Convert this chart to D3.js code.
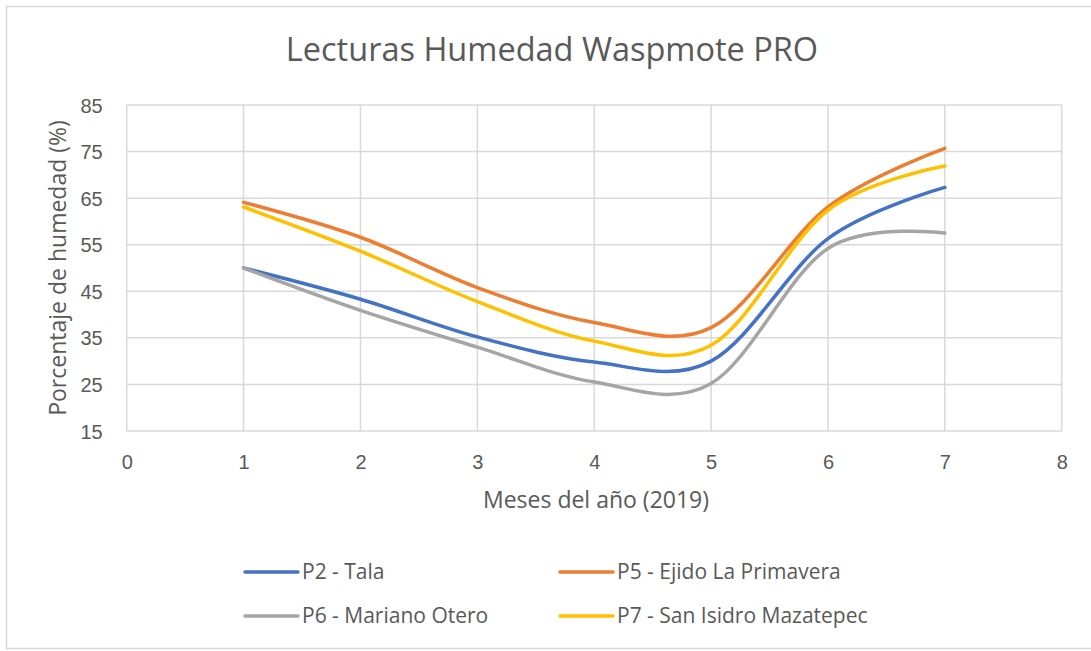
<!DOCTYPE html>
<html>
<head>
<meta charset="utf-8">
<script src="https://cdn.jsdelivr.net/npm/d3@7"></script>
<style>
  body { margin: 0; background: #fff; }
  svg { display: block; font-family: "Open Sans", sans-serif; }
  .grid line { stroke: #d9d9d9; stroke-width: 1.5; }
  .tick text { fill: #595959; font-size: 20px; }
</style>
</head>
<body>
<svg id="chart"></svg>
<script>
// months on the x axis
var months = [1, 2, 3, 4, 5, 6, 7];

// humidity readings (%) per station
var tala = [50, 43.3, 35.2, 29.8, 30.0, 56.3, 67.3];
var ejido = [64.1, 56.6, 45.8, 38.3, 37.2, 63.1, 75.7];
var mariano = [50, 40.9, 33, 25.5, 25.2, 54.2, 57.5];
var sanIsidro = [63.1, 53.6, 42.8, 34.3, 33.4, 62.4, 71.9];

var seriesNames = ["P2 - Tala", "P5 - Ejido La Primavera", "P6 - Mariano Otero", "P7 - San Isidro Mazatepec"];
var seriesColors = ["#4472c4", "#ed7d31", "#a5a5a5", "#ffc000"];
var seriesValues = [tala, ejido, mariano, sanIsidro];

var xTicks = [0, 1, 2, 3, 4, 5, 6, 7, 8];
var yTicks = [15, 25, 35, 45, 55, 65, 75, 85];

var width = 1091
  , height = 651
  , plot = { left: 126.7, right: 1061.7, top: 105, bottom: 431 }
;

var svg = d3.select("#chart")
    .attr("width", width)
    .attr("height", height)
;

// chart area border (right side runs off the picture)
svg.append("rect")
    .attr("x", 6.5).attr("y", 6.5)
    .attr("width", 1092).attr("height", 642)
    .attr("fill", "#fff")
    .attr("stroke", "#d9d9d9")
    .attr("stroke-width", 1.5)
;

var x = d3.scaleLinear().domain([0, 8]).range([plot.left, plot.right]);
var y = d3.scaleLinear().domain([15, 85]).range([plot.bottom, plot.top]);

// gridlines
var grid = svg.append("g").attr("class", "grid");
grid.selectAll(".h").data(yTicks)
  .enter().append("line")
    .attr("x1", plot.left).attr("x2", plot.right)
    .attr("y1", function(d) { return y(d); })
    .attr("y2", function(d) { return y(d); })
;
grid.selectAll(".v").data(xTicks)
  .enter().append("line")
    .attr("y1", plot.top).attr("y2", plot.bottom)
    .attr("x1", function(d) { return x(d); })
    .attr("x2", function(d) { return x(d); })
;

// axes (labels only, lines come from the grid)
var xAxis = svg.append("g")
    .attr("transform", "translate(0," + plot.bottom + ")")
    .call(d3.axisBottom(x).tickValues(xTicks).tickSize(0).tickPadding(24))
;
var yAxis = svg.append("g")
    .attr("transform", "translate(" + plot.left + ",0)")
    .call(d3.axisLeft(y).tickValues(yTicks).tickSize(0).tickPadding(24))
;
[xAxis, yAxis].forEach(function(g) {
    g.select(".domain").remove();
    g.selectAll(".tick text").attr("font-family", null).attr("font-size", null);
});
yAxis.selectAll(".tick text").attr("dy", "0.35em");

// series
var line = d3.line()
    .x(function(d, i) { return x(months[i]); })
    .y(function(d) { return y(d); })
    .curve(d3.curveCatmullRom.alpha(0))
;
svg.append("g").selectAll("path")
    .data(seriesValues)
  .enter().append("path")
    .attr("d", line)
    .attr("fill", "none")
    .attr("stroke", function(d, i) { return seriesColors[i]; })
    .attr("stroke-width", 3.5)
    .attr("stroke-linecap", "round")
;

// titles
svg.append("text")
    .attr("x", 552).attr("y", 61)
    .attr("text-anchor", "middle")
    .attr("fill", "#595959")
    .attr("font-size", "32.5px")
    .text("Lecturas Humedad Waspmote PRO")
;
svg.append("text")
    .attr("x", 596).attr("y", 508)
    .attr("text-anchor", "middle")
    .attr("fill", "#595959")
    .attr("font-size", "23px")
    .text("Meses del año (2019)")
;
svg.append("text")
    .attr("transform", "translate(66," + (plot.top + plot.bottom) / 2 + ") rotate(-90)")
    .attr("text-anchor", "middle")
    .attr("fill", "#595959")
    .attr("font-size", "23px")
    .text("Porcentaje de humedad (%)")
;

// legend, 2 columns
var legendPos = [[245, 572], [560, 572], [245, 616], [560, 616]];
var legend = svg.append("g").selectAll("g")
    .data(seriesNames)
  .enter().append("g")
    .attr("transform", function(d, i) { return "translate(" + legendPos[i][0] + "," + legendPos[i][1] + ")"; })
;
legend.append("line")
    .attr("x1", 0).attr("x2", 53)
    .attr("stroke", function(d, i) { return seriesColors[i]; })
    .attr("stroke-width", 3.5)
    .attr("stroke-linecap", "round")
;
legend.append("text")
    .attr("x", 57).attr("dy", "0.35em")
    .attr("fill", "#595959")
    .attr("font-size", "21px")
    .text(function(d) { return d; })
;
</script>
</body>
</html>
